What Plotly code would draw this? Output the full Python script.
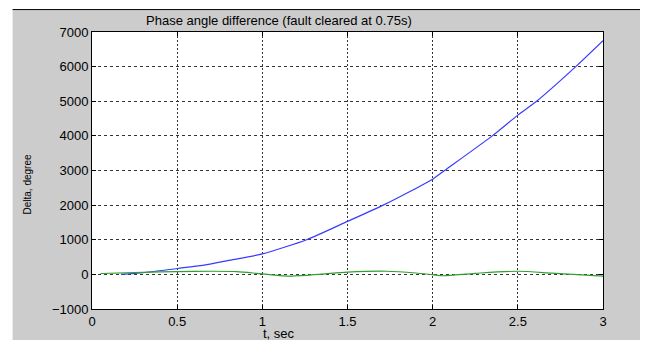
import plotly.graph_objects as go

# Blue: rotor angle difference without stability (degrees)
t_blue = [0.17, 0.3, 0.5, 0.65, 0.81, 1.0, 1.26, 1.5, 1.71, 2.0, 2.07, 2.35, 2.5, 2.61, 2.84, 3.0]
d_blue = [0, 50, 170, 260, 410, 590, 1000, 1530, 2000, 2750, 3000, 4000, 4600, 5000, 6000, 6750]

# Green: oscillating phase angle difference (degrees)
t_green = [0.05, 0.3, 0.5, 0.7, 0.85, 1.0, 1.17, 1.35, 1.5, 1.73, 1.9, 2.0, 2.06, 2.25, 2.5, 2.7, 2.85, 3.0]
d_green = [25, 60, 80, 90, 80, 15, -50, 10, 65, 90, 40, -10, -40, 30, 90, 35, -10, -50]

x_ticks = [0, 0.5, 1, 1.5, 2, 2.5, 3]
x_tick_labels = ["0", "0.5", "1", "1.5", "2", "2.5", "3"]
y_ticks = [-1000, 0, 1000, 2000, 3000, 4000, 5000, 6000, 7000]

fig = go.Figure()
fig.add_trace(go.Scatter(x=t_blue, y=d_blue, mode="lines",
                         line=dict(color="#3a3aff", width=1.2, shape="spline", smoothing=0.6),
                         showlegend=False))
fig.add_trace(go.Scatter(x=t_green, y=d_green, mode="lines",
                         line=dict(color="#2ea02e", width=1.2, shape="spline", smoothing=0.8),
                         showlegend=False))

font = dict(family="Liberation Sans, Arial, sans-serif", size=13, color="black")
small = dict(family="Liberation Sans, Arial, sans-serif", size=13, color="black")

fig.update_layout(
    width=648, height=340,
    margin=dict(l=83.5, r=53, t=24, b=39),
    paper_bgcolor="#cccccc",
    plot_bgcolor="white",
    font=font,
    xaxis=dict(range=[0, 3], tickvals=x_ticks, ticktext=x_tick_labels,
               showline=True, linecolor="black", linewidth=1, mirror="ticks",
               ticks="inside", ticklen=4, tickcolor="black",
               showgrid=True, gridcolor="#333333", gridwidth=1, griddash="2px,2px",
               zeroline=False, tickfont=font),
    yaxis=dict(range=[-1000, 7000], tickvals=y_ticks,
               showline=True, linecolor="black", linewidth=1, mirror="ticks",
               ticks="inside", ticklen=4, tickcolor="black",
               showgrid=True, gridcolor="#333333", gridwidth=1, griddash="3px,3px",
               zeroline=False, tickfont=font),
    shapes=[
        dict(type="rect", xref="paper", yref="paper", x0=-0.2, x1=1.2, y0=1.081, y1=1.2,
             fillcolor="white", line=dict(width=0), layer="below"),
        dict(type="rect", xref="paper", yref="paper", x0=-0.2, x1=-0.1554, y0=-0.2, y1=1.2,
             fillcolor="white", line=dict(width=0), layer="below"),
        dict(type="line", xref="paper", yref="paper", x0=-0.1554, x1=1.2, y0=1.081, y1=1.081,
             line=dict(color="black", width=1)),
    ],
    annotations=[
        dict(text="Phase angle difference (fault cleared at 0.75s)", xref="paper", yref="paper",
             x=0.3666, y=1.043, showarrow=False, xanchor="center", yanchor="middle", font=small),
        dict(text="t, sec", xref="paper", yref="paper",
             x=0.3666, y=-0.087, showarrow=False, xanchor="center", yanchor="middle", font=small),
        dict(text="Delta, degree", xref="paper", yref="paper",
             x=-0.126, y=0.448, showarrow=False, textangle=-90, xanchor="center", yanchor="middle",
             font=dict(family="Liberation Sans, Arial, sans-serif", size=10, color="black")),
    ],
)

fig.write_html("out.html")
